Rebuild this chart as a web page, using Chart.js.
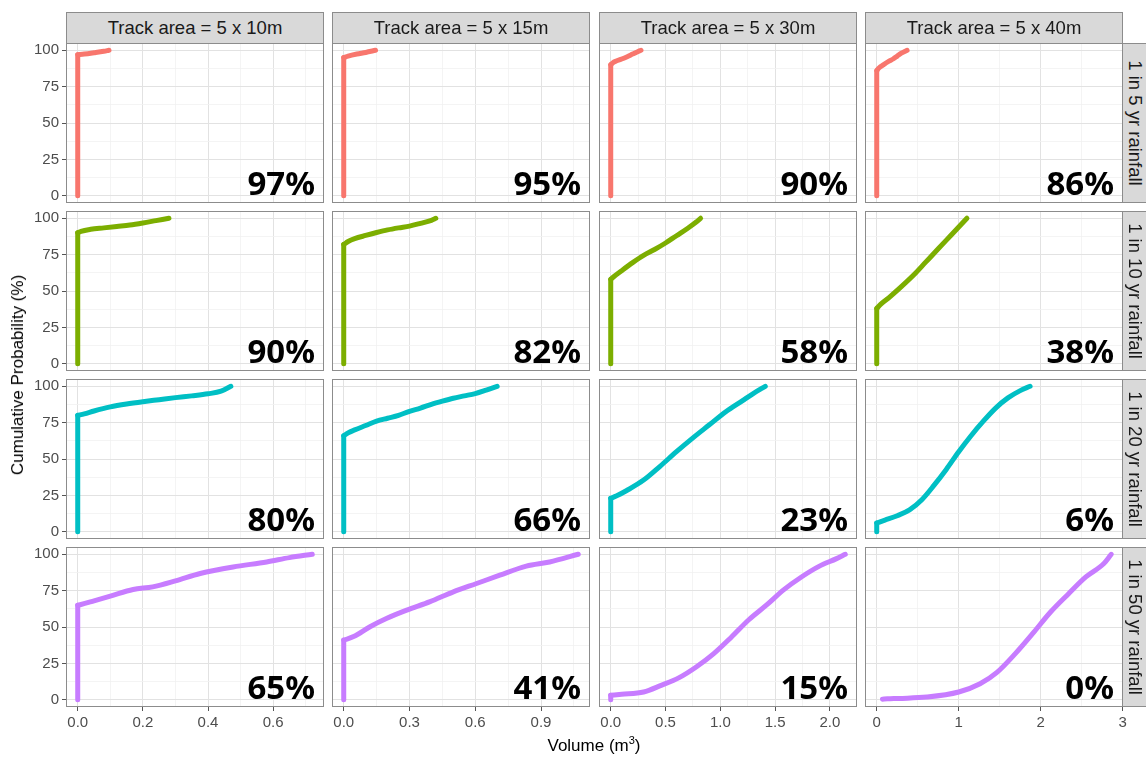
<!DOCTYPE html>
<html>
<head>
<meta charset="utf-8">
<script src="https://cdn.jsdelivr.net/npm/chart.js@4.4.0/dist/chart.umd.min.js"></script>
<style>
  html, body { margin: 0; padding: 0; background: #fff; }
  #fig { position: relative; width: 1146px; height: 758px; overflow: hidden;
         font-family: "Liberation Sans", Arial, sans-serif; background: #fff; }
  #fig canvas { position: absolute; }
  .strip { position: absolute; box-sizing: border-box; background: #d9d9d9;
           border: 1px solid #8c8c8c; color: #1a1a1a; font-size: 18.5px;
           display: flex; align-items: center; justify-content: center; white-space: nowrap; }
  .strip.row span { display: inline-block; transform: rotate(90deg); }
  .title { position: absolute; color: #000; font-size: 17px; white-space: nowrap; }
  .title sup { font-size: 11px; }
</style>
</head>
<body>
<div id="fig"></div>
<script>
// Facet labels
const columnTitles = ['Track area = 5 x 10m', 'Track area = 5 x 15m', 'Track area = 5 x 30m', 'Track area = 5 x 40m'];
const rowTitles = ['1 in 5 yr rainfall', '1 in 10 yr rainfall', '1 in 20 yr rainfall', '1 in 50 yr rainfall'];

// Share of runs with zero volume, printed in each panel
const pct5yr  = ['97%', '95%', '90%', '86%'];
const pct10yr = ['90%', '82%', '58%', '38%'];
const pct20yr = ['80%', '66%', '23%', '6%'];
const pct50yr = ['65%', '41%', '15%', '0%'];

// Cumulative probability curves: [volume (m3), cumulative probability (%)]
const r5_10 = [[0,0],[0,97],[0.02,97.4],[0.05,98.3],[0.08,99.3],[0.096,100]];
const r5_15 = [[0,0],[0,95],[0.02,96],[0.06,97.4],[0.1,98.5],[0.145,100]];
const r5_30 = [[0,0],[0,90],[0.02,91.5],[0.05,92.6],[0.1,94],[0.15,95.6],[0.2,97.4],[0.25,99.2],[0.276,100]];
const r5_40 = [[0,0],[0,86],[0.03,88],[0.08,90],[0.15,92.5],[0.2,94],[0.25,96],[0.3,98],[0.37,100]];

const r10_10 = [[0,0],[0,90],[0.01,91],[0.04,92.4],[0.08,93.4],[0.12,94.4],[0.16,95.4],[0.2,96.8],[0.24,98.4],[0.28,100]];
const r10_15 = [[0,0],[0,82],[0.02,84],[0.05,86],[0.1,88.2],[0.15,90.2],[0.2,92],[0.25,93.4],[0.3,94.6],[0.35,96.5],[0.4,98.6],[0.42,100]];
const r10_30 = [[0,0],[0,58],[0.03,60],[0.1,64],[0.2,69.5],[0.3,74.5],[0.4,78.5],[0.5,83],[0.6,88],[0.7,93],[0.78,97.4],[0.82,100]];
const r10_40 = [[0,0],[0,38],[0.05,41],[0.15,45.5],[0.3,53],[0.45,61],[0.6,70],[0.75,79],[0.9,88],[1.0,94],[1.1,100]];

const r20_10 = [[0,0],[0,80],[0.02,81],[0.05,83],[0.1,85.8],[0.15,87.8],[0.2,89.4],[0.25,90.8],[0.3,92.2],[0.35,93.4],[0.4,94.8],[0.44,96.6],[0.47,100]];
const r20_15 = [[0,0],[0,66],[0.02,68],[0.05,70],[0.1,73],[0.15,76],[0.2,78],[0.25,80],[0.3,82.8],[0.35,85],[0.4,87.6],[0.45,89.8],[0.5,91.8],[0.55,93.4],[0.6,95],[0.65,97.4],[0.7,100]];
const r20_30 = [[0,0],[0,23],[0.05,24.5],[0.15,28.5],[0.3,35.5],[0.45,45],[0.6,55],[0.75,64.5],[0.9,73.5],[1.05,82.5],[1.2,90],[1.3,95],[1.41,100]];
const r20_40 = [[0,0],[0,6],[0.1,8],[0.25,11],[0.4,15],[0.55,22],[0.7,32],[0.85,43],[1.0,55],[1.15,66],[1.3,76],[1.45,85],[1.6,92],[1.75,97],[1.87,100]];

const r50_10 = [[0,0],[0,65],[0.01,65.5],[0.05,68],[0.1,71.2],[0.17,75.8],[0.23,77.6],[0.3,81.7],[0.376,86.8],[0.477,91.3],[0.58,94.7],[0.65,97.7],[0.72,100]];
const r50_15 = [[0,0],[0,41],[0.045,43.4],[0.12,50.2],[0.197,56],[0.288,61.6],[0.394,67.4],[0.5,74.2],[0.606,79.9],[0.712,85.6],[0.833,91.8],[0.939,94.7],[1.07,100]];
const r50_30 = [[0,0],[0,3],[0.1,3.7],[0.3,5.3],[0.46,9.9],[0.62,15],[0.78,22.5],[0.94,31.7],[1.1,43],[1.26,55],[1.42,65],[1.58,75.7],[1.74,84.4],[1.9,91.7],[2.06,97],[2.14,100]];
const r50_40 = [[0.07,0.4],[0.13,0.6],[0.27,0.9],[0.61,1.8],[1.0,5.3],[1.26,11],[1.47,19],[1.69,31.7],[1.9,45.4],[2.12,60.3],[2.34,72.9],[2.55,84.4],[2.77,93.6],[2.86,100]];

// Axis ticks
const yTicks = [0, 25, 50, 75, 100];
const xTicks10 = [0, 0.2, 0.4, 0.6];
const xTicks15 = [0, 0.3, 0.6, 0.9];
const xTicks30 = [0, 0.5, 1.0, 1.5, 2.0];
const xTicks40 = [0, 1, 2, 3];
const xTickLabels10 = ['0.0', '0.2', '0.4', '0.6'];
const xTickLabels15 = ['0.0', '0.3', '0.6', '0.9'];
const xTickLabels30 = ['0.0', '0.5', '1.0', '1.5', '2.0'];
const xTickLabels40 = ['0', '1', '2', '3'];

const curves = [
  [r5_10, r5_15, r5_30, r5_40],
  [r10_10, r10_15, r10_30, r10_40],
  [r20_10, r20_15, r20_30, r20_40],
  [r50_10, r50_15, r50_30, r50_40]
];
const pctLabels = [pct5yr, pct10yr, pct20yr, pct50yr];
const xTicksByCol = [xTicks10, xTicks15, xTicks30, xTicks40];
const xLabelsByCol = [xTickLabels10, xTickLabels15, xTickLabels30, xTickLabels40];
const rowColors = ['#F8766D', '#7CAE00', '#00BFC4', '#C77CFF'];

// Panel geometry
const PANEL_W = 258, PANEL_H = 160;
const colLeft = [66, 332, 599, 865];
const rowTop = [43, 211, 379, 547];
const STRIP_TOP = 12, STRIP_H = 31, RSTRIP_W = 23;
const X_AXIS_H = 34, RIGHT_OVERHANG = 24;
const tickFont = { family: '"Liberation Sans", Arial, sans-serif', size: 15 };
const tickColor = '#4d4d4d';

const fig = document.getElementById('fig');

// Major ticks plus minor ones halfway between (and one past the last major if in range)
function withMinor(major, lo, hi) {
  const out = [];
  for (let i = 0; i < major.length; i++) {
    out.push({ v: major[i], major: true });
    const step = i < major.length - 1 ? major[i + 1] - major[i] : major[i] - major[i - 1];
    const mid = major[i] + step / 2;
    if (mid > lo && mid < hi) out.push({ v: mid, major: false });
  }
  return out.filter(t => t.v >= lo && t.v <= hi);
}

function isMajor(list, v) { return list.some(t => Math.abs(t - v) < 1e-9); }

// Panel frame and the zero-volume share label
const panelFrame = {
  id: 'panelFrame',
  afterDraw(chart, args, opts) {
    const { ctx, chartArea: a } = chart;
    ctx.save();
    if (opts.label) {
      ctx.font = 'bold 33px "Noto Sans", "DejaVu Sans", sans-serif';
      ctx.fillStyle = '#000';
      ctx.textAlign = 'right';
      ctx.textBaseline = 'alphabetic';
      ctx.fillText(opts.label, a.right - 9, a.bottom - 8);
    }
    ctx.strokeStyle = '#8c8c8c';
    ctx.lineWidth = 1;
    ctx.strokeRect(a.left + 0.5, a.top + 0.5, a.right - a.left - 1, a.bottom - a.top - 1);
    ctx.restore();
  }
};

function columnRange(c) {
  let maxX = -Infinity, minX = Infinity;
  curves.forEach(row => row[c].forEach(([x]) => { maxX = Math.max(maxX, x); minX = Math.min(minX, x); }));
  const span = maxX - minX;
  return [minX - 0.05 * span, maxX + 0.05 * span];
}

// Split a curve into its vertical rise at the smallest volume and the rising tail
function splitCurve(pts) {
  let k = 0;
  while (k + 1 < pts.length && pts[k + 1][0] === pts[0][0]) k++;
  return { rise: pts.slice(0, k + 1), tail: pts.slice(k) };
}

function makePanel(r, c) {
  const left = c === 0, bottom = r === 3;
  const padL = left ? colLeft[0] : 0;
  const padB = bottom ? X_AXIS_H : 0;
  const padR = (bottom && c === 3) ? RIGHT_OVERHANG : 0;
  const w = PANEL_W + padL + padR, h = PANEL_H + padB;
  const cv = document.createElement('canvas');
  cv.width = w; cv.height = h;
  cv.style.left = (colLeft[c] - padL) + 'px';
  cv.style.top = rowTop[r] + 'px';
  cv.style.width = w + 'px';
  cv.style.height = h + 'px';
  fig.appendChild(cv);

  const [xMin, xMax] = columnRange(c);
  const xMajor = xTicksByCol[c];
  const xAll = withMinor(xMajor, xMin, xMax);
  const yAll = withMinor(yTicks, -5, 105);
  const { rise, tail } = splitCurve(curves[r][c]);
  const lineStyle = {
    showLine: true, borderColor: rowColors[r], backgroundColor: rowColors[r],
    borderWidth: 5, pointRadius: 0, borderCapStyle: 'round', borderJoinStyle: 'round'
  };
  const datasets = [Object.assign({ data: tail.map(([x, y]) => ({ x, y })), cubicInterpolationMode: 'monotone' }, lineStyle)];
  if (rise.length > 1) datasets.push(Object.assign({ data: rise.map(([x, y]) => ({ x, y })), tension: 0 }, lineStyle));

  new Chart(cv, {
    type: 'scatter',
    data: { datasets },
    options: {
      responsive: false,
      animation: false,
      events: [],
      layout: { padding: { left: 0, top: 0, bottom: 0, right: padR } },
      plugins: {
        legend: { display: false },
        tooltip: { enabled: false },
        panelFrame: { label: pctLabels[r][c] }
      },
      scales: {
        x: {
          type: 'linear', min: xMin, max: xMax,
          afterBuildTicks: s => { s.ticks = xAll.map(t => ({ value: t.v })); },
          afterFit: s => { s.height = padB; s.paddingLeft = 0; s.paddingRight = 0; },
          border: { display: false },
          grid: {
            drawTicks: bottom, tickLength: 4,
            color: ctx => isMajor(xMajor, ctx.tick.value) ? '#e2e2e2' : '#f1f1f1',
            lineWidth: ctx => isMajor(xMajor, ctx.tick.value) ? 1 : 0.8,
            tickColor: ctx => isMajor(xMajor, ctx.tick.value) ? '#555' : 'rgba(0,0,0,0)'
          },
          ticks: {
            display: bottom, autoSkip: false, maxRotation: 0, minRotation: 0, padding: 3,
            font: tickFont, color: tickColor,
            callback: v => { const i = xMajor.findIndex(t => Math.abs(t - v) < 1e-9); return i < 0 ? '' : xLabelsByCol[c][i]; }
          }
        },
        y: {
          type: 'linear', min: -5, max: 105,
          afterBuildTicks: s => { s.ticks = yAll.map(t => ({ value: t.v })); },
          afterFit: s => { s.width = padL; s.paddingTop = 0; s.paddingBottom = 0; },
          border: { display: false },
          grid: {
            drawTicks: left, tickLength: 4,
            color: ctx => isMajor(yTicks, ctx.tick.value) ? '#e2e2e2' : '#f1f1f1',
            lineWidth: ctx => isMajor(yTicks, ctx.tick.value) ? 1 : 0.8,
            tickColor: ctx => isMajor(yTicks, ctx.tick.value) ? '#555' : 'rgba(0,0,0,0)'
          },
          ticks: {
            display: left, autoSkip: false, padding: 3,
            font: tickFont, color: tickColor,
            callback: v => isMajor(yTicks, v) ? String(v) : ''
          }
        }
      }
    },
    plugins: [panelFrame]
  });
}

function addDiv(cls, html, css) {
  const d = document.createElement('div');
  d.className = cls;
  d.innerHTML = html;
  Object.assign(d.style, css);
  fig.appendChild(d);
  return d;
}

function build() {
  for (let r = 0; r < 4; r++) for (let c = 0; c < 4; c++) makePanel(r, c);

  columnTitles.forEach((t, c) => addDiv('strip', t, {
    left: colLeft[c] + 'px', top: STRIP_TOP + 'px',
    width: PANEL_W + 'px', height: (STRIP_H + 1) + 'px'
  }));
  rowTitles.forEach((t, r) => addDiv('strip row', '<span>' + t + '</span>', {
    left: (colLeft[3] + PANEL_W - 1) + 'px', top: rowTop[r] + 'px',
    width: (RSTRIP_W + 2) + 'px', height: PANEL_H + 'px'
  }));

  const yt = addDiv('title', 'Cumulative Probability (%)', {});
  yt.style.left = '18px'; yt.style.top = '375px';
  yt.style.transform = 'translate(-50%, -50%) rotate(-90deg)';

  const xt = addDiv('title', 'Volume (m<sup>3</sup>)', {});
  xt.style.left = '594px'; xt.style.top = '745px';
  xt.style.transform = 'translate(-50%, -50%)';
}

Promise.all([
  document.fonts.load('bold 33px "Noto Sans"'),
  document.fonts.load('15px "Liberation Sans"')
]).catch(() => {}).then(build);
</script>
</body>
</html>
